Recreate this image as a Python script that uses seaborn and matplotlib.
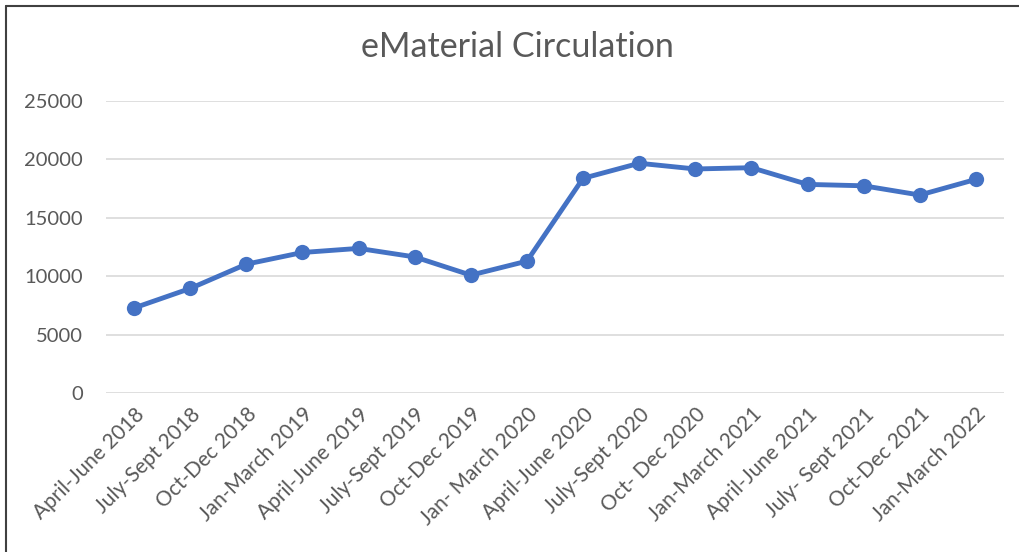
import matplotlib
matplotlib.use("Agg")
import matplotlib.pyplot as plt
import seaborn as sns
import pandas as pd
from matplotlib.lines import Line2D

# Datos
periodos = [
    "April-June 2018", "July-Sept 2018", "Oct-Dec 2018", "Jan-March 2019",
    "April-June 2019", "July-Sept 2019", "Oct-Dec 2019", "Jan- March 2020",
    "April-June 2020", "July-Sept 2020", "Oct- Dec 2020", "Jan-March 2021",
    "April-June 2021", "July- Sept 2021", "Oct-Dec 2021", "Jan-March 2022",
]
circulacion = [7280, 8950, 11030, 12030, 12380, 11650, 10090, 11290,
               18380, 19670, 19180, 19290, 17860, 17740, 16950, 18290]
y_ticks = [0, 5000, 10000, 15000, 20000, 25000]

df = pd.DataFrame({"periodo": periodos, "circulacion": circulacion})

sns.set_theme(style="white")
plt.rcParams["font.family"] = ["Lato", "DejaVu Sans"]

gris = "#595959"
azul = "#4472C4"

fig = plt.figure(figsize=(10.19, 5.52), dpi=100)
ax = fig.add_axes([106 / 1019, 1 - 393 / 552, 898 / 1019, 292 / 552])

sns.lineplot(data=df, x="periodo", y="circulacion", ax=ax, sort=False,
             color=azul, linewidth=3.5, marker="o", markersize=11,
             markeredgewidth=0, zorder=3)

ax.set_xlim(-0.5, len(periodos) - 0.5)
ax.set_ylim(0, 25000)
ax.set_yticks(y_ticks)
ax.set_yticklabels([str(v) for v in y_ticks])
ax.set_xticks(range(len(periodos)))
ax.set_xticklabels(periodos, rotation=45, ha="right", rotation_mode="anchor")

ax.yaxis.grid(True, color="#D9D9D9", linewidth=1.2)
ax.set_axisbelow(True)
for s in ax.spines.values():
    s.set_visible(False)

ax.tick_params(axis="y", colors=gris, labelsize=14.5, length=0, pad=16.5)
ax.tick_params(axis="x", colors=gris, labelsize=15, length=0, pad=8)
ax.set_xlabel("")
ax.set_ylabel("")

fig.text(517 / 1019, 1 - 47 / 552, "eMaterial Circulation", ha="center", va="center",
         fontsize=24.5, color=gris)

# Borde del grafico
fig.add_artist(Line2D([6 / 1019, 1], [1 - 6 / 552, 1 - 6 / 552],
                      transform=fig.transFigure, color="#404040", linewidth=1.5))
fig.add_artist(Line2D([6 / 1019, 6 / 1019], [0, 1 - 6 / 552],
                      transform=fig.transFigure, color="#404040", linewidth=1.5))

fig.savefig("out.png", dpi=100, facecolor="white")
